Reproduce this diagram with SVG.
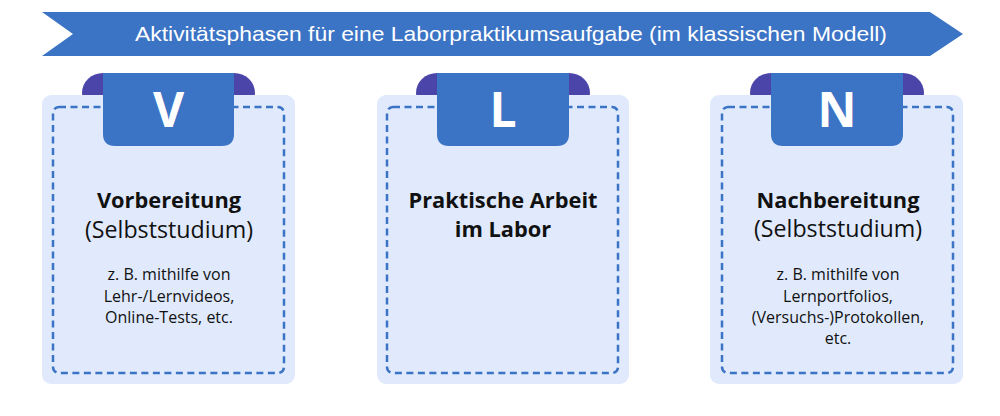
<svg xmlns="http://www.w3.org/2000/svg" width="1000" height="416" viewBox="0 0 1000 416">
<style>
.card{fill:#e0eafc}
.dash{fill:none;stroke:#3b73c5;stroke-width:2.5;stroke-dasharray:7 4.5}
.ear{fill:#4b45a9}
.tab{fill:#3b73c5}
.letter{font-family:"Open Sans","Noto Sans",sans-serif;font-weight:700;font-size:48px;fill:#ffffff;text-anchor:middle}
.title{font-family:"Open Sans","Noto Sans",sans-serif;font-weight:700;font-size:21.8px;fill:#111111;text-anchor:middle}
.sub{font-family:"Open Sans","Noto Sans",sans-serif;font-size:23.2px;fill:#111111;text-anchor:middle}
.small{font-family:"Open Sans","Noto Sans",sans-serif;font-size:16px;fill:#111111;text-anchor:middle}
.banner-text{font-family:"Liberation Sans",Arial,sans-serif;font-size:21px;fill:#ffffff;text-anchor:middle}
</style>
<rect width="1000" height="416" fill="#ffffff"/>
<g id="banner">
<path d="M42,12 L930,12 L963,34 L930,56 L42,56 L73,34 Z" fill="#3b73c5"/>
<text class="banner-text" x="511" y="41" textLength="752" lengthAdjust="spacingAndGlyphs">Aktivitätsphasen für eine Laborpraktikumsaufgabe (im klassischen Modell)</text>
</g>
<g id="card-v">
<rect class="ear" x="82" y="73" width="173" height="40" rx="21"/>
<rect class="card" x="42" y="95" width="253" height="289" rx="9"/>
<rect class="dash" x="53" y="107" width="231" height="266" rx="6"/>
<path class="tab" d="M103,73 H234 V134 Q234,146 222,146 H115 Q103,146 103,134 Z"/>
<text class="letter" x="168.5" y="127">V</text>
<text class="title" x="169" y="208">Vorbereitung</text>
<text class="sub" x="169" y="238">(Selbststudium)</text>
<text class="small" x="169" y="280">z. B. mithilfe von</text>
<text class="small" x="169" y="301.5">Lehr-/Lernvideos,</text>
<text class="small" x="169" y="323">Online-Tests, etc.</text>
</g>
<g id="card-l">
<rect class="ear" x="416" y="73" width="174" height="40" rx="21"/>
<rect class="card" x="377" y="95" width="252" height="289" rx="9"/>
<rect class="dash" x="387" y="107" width="231" height="266" rx="6"/>
<path class="tab" d="M437,73 H569 V134 Q569,146 557,146 H449 Q437,146 437,134 Z"/>
<text class="letter" x="503" y="127">L</text>
<text class="title" x="503" y="208">Praktische Arbeit</text>
<text class="title" x="503" y="237">im Labor</text>
</g>
<g id="card-n">
<rect class="ear" x="750" y="73" width="174" height="40" rx="21"/>
<rect class="card" x="710" y="95" width="253" height="289" rx="9"/>
<rect class="dash" x="722" y="107" width="231" height="266" rx="6"/>
<path class="tab" d="M771,73 H903 V134 Q903,146 891,146 H783 Q771,146 771,134 Z"/>
<text class="letter" x="837" y="127">N</text>
<text class="title" x="838" y="208">Nachbereitung</text>
<text class="sub" x="838" y="237">(Selbststudium)</text>
<text class="small" x="838" y="280">z. B. mithilfe von</text>
<text class="small" x="838" y="302">Lernportfolios,</text>
<text class="small" x="838" y="323">(Versuchs-)Protokollen,</text>
<text class="small" x="838" y="344">etc.</text>
</g>
<g id="connectors"></g>
</svg>
